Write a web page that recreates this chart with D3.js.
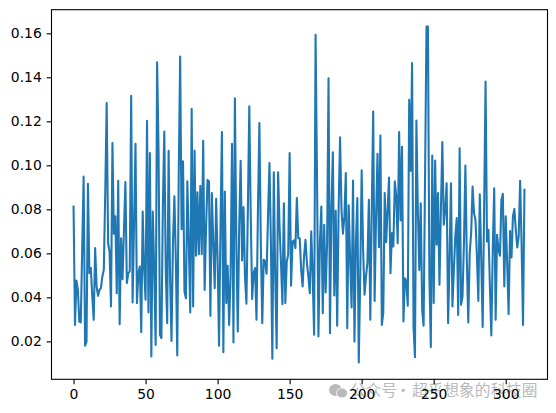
<!DOCTYPE html>
<html><head><meta charset="utf-8">
<script src="https://cdn.jsdelivr.net/npm/d3@7/dist/d3.min.js"></script>
<style>html,body{margin:0;padding:0;background:#fff}svg{display:block}</style>
</head><body><svg id="c" width="556" height="413"></svg>
<script>
const values = [
.0813,.0275,.0477,.0434,.0290,.0286,.0616,.0949,.0180,.0199,.0916,.0510,.0533,.0404,.0298,.0624,.0450,.0407,.0434,.0442,
.0495,.0525,.0874,.1283,.0646,.0608,.0359,.1101,.0689,.0768,.0419,.0930,.0278,.0669,.0483,.0707,.0924,.0465,.0510,.0518,
.1316,.0377,.0737,.1098,.0374,.0510,.0540,.0242,.0790,.0525,.0389,.1202,.0331,.1056,.0131,.0790,.0525,.0184,.1468,.1071,
.0230,.0215,.0813,.1154,.0525,.0283,.1066,.0495,.0202,.0646,.0859,.0571,.0136,.0949,.1495,.0710,.1018,.0427,.0396,.0927,
.0646,.0331,.1257,.0359,.1067,.0589,.0877,.0596,.0907,.0596,.1112,.0434,.0722,.0934,.0927,.0316,.0874,.0646,.0442,.0848,
.0571,.0180,.0722,.1151,.0151,.0881,.0374,.0543,.0275,.0495,.1098,.0195,.1305,.0646,.0245,.0722,.1021,.0568,.0810,.0495,
.0371,.0798,.1268,.0768,.0393,.0510,.0533,.0298,.0798,.1192,.0646,.0283,.0571,.0563,.0507,.0768,.1010,.0646,.0121,.0969,
.0495,.0169,.0969,.0722,.0556,.0369,.0828,.0374,.0563,.0593,.1056,.0453,.0654,.0659,.0624,.0851,.0669,.0669,.0525,.0450,
.0586,.0662,.0556,.0495,.0419,.0700,.0495,.0230,.1593,.0949,.0222,.0646,.0813,.0328,.0730,.0422,.0646,.1396,.0237,.0798,
.1059,.0409,.0793,.0271,.0798,.1127,.0798,.0689,.0768,.0965,.0260,.0819,.0571,.0354,.0931,.0199,.0646,.0851,.0104,.0495,
.0977,.0616,.0412,.0495,.0556,.0843,.0298,.0798,.1245,.0384,.0768,.1053,.0628,.1136,.0275,.0328,.0874,.0651,.0798,.0945,
.0510,.0692,.0631,.0927,.0859,.0646,.1151,.0750,.1084,.0290,.0487,.0472,.0362,.1298,.0975,.1465,.0268,.0128,.1204,.0798,
.0525,.0828,.0343,.0271,.0949,.1631,.1631,.0495,.0174,.1045,.0374,.1022,.0639,.0874,.0457,.0798,.1106,.0730,.0798,.0919,
.0283,.0571,.0919,.0359,.0525,.0677,.0760,.0320,.1078,.0366,.0404,.0646,.0999,.0571,.0286,.0601,.0692,.0904,.0783,.0752,
.0586,.0384,.0869,.0571,.0265,.0798,.1381,.0654,.0707,.0450,.0227,.0616,.0896,.0298,.0684,.0616,.0589,.0843,.0871,.0450,
.0768,.0556,.0324,.0702,.0581,.0768,.0802,.0707,.0627,.0677,.0930,.0646,.0275,.0889];
const xTicks = [0,50,100,150,200,250,300];
const yTicks = [0.02,0.04,0.06,0.08,0.10,0.12,0.14,0.16];
const watermarkParts = ["公众号","·","超乎想象的科技圈"];

const L=51,R=547,T=9.7,B=379.3;
const svg=d3.select("#c");
const extY=d3.extent(values), padY=(extY[1]-extY[0])*0.05, padX=(values.length-1)*0.05;
const x=d3.scaleLinear().domain([-padX,values.length-1+padX]).range([L,R]);
const y=d3.scaleLinear().domain([extY[0]-padY,extY[1]+padY]).range([B,T]);

svg.append("path").datum(values)
  .attr("fill","none").attr("stroke","#1f77b4").attr("stroke-width",2.08)
  .attr("stroke-linejoin","round").attr("stroke-linecap","square")
  .attr("d",d3.line().x((d,i)=>x(i)).y(d=>y(d)));

svg.append("rect").attr("x",L+.5).attr("y",T).attr("width",R-L).attr("height",B-T)
  .attr("fill","none").attr("stroke","#000").attr("stroke-width",1.1);

// watermark
const wmColor="#bababa";
const wm=svg.append("g");
const wmFont=t=>t.attr("font-family","'Noto Sans CJK SC'").attr("font-size",15.7).attr("fill",wmColor);
wm.append("text").attr("x",397).attr("y",396).attr("text-anchor","end").call(wmFont).text(watermarkParts[0]);
wm.append("text").attr("x",403).attr("y",396).attr("text-anchor","middle").call(wmFont).text(watermarkParts[1]);
wm.append("text").attr("x",537.5).attr("y",396).attr("text-anchor","end").call(wmFont).text(watermarkParts[2]);
wm.append("ellipse").attr("cx",335.5).attr("cy",390).attr("rx",6.5).attr("ry",6).attr("fill",wmColor);
wm.append("ellipse").attr("cx",342).attr("cy",393).attr("rx",5.5).attr("ry",5).attr("fill",wmColor).attr("stroke","#fff").attr("stroke-width",0.8);

const style=g=>{g.select(".domain").remove();
  g.selectAll("line").attr("stroke","#000").attr("stroke-width",1.1);
  g.selectAll("text").attr("font-family","'DejaVu Sans'").attr("font-size",13.9).attr("fill","#000");};
svg.append("g").attr("transform",`translate(0,${B})`)
  .call(d3.axisBottom(x).tickValues(xTicks).tickFormat(d3.format("d")).tickSize(4.86).tickPadding(4.86)).call(style);
svg.append("g").attr("transform",`translate(${L+.5},0)`)
  .call(d3.axisLeft(y).tickValues(yTicks).tickFormat(d3.format(".2f")).tickSize(4.86).tickPadding(4.86)).call(style);
</script></body></html>
